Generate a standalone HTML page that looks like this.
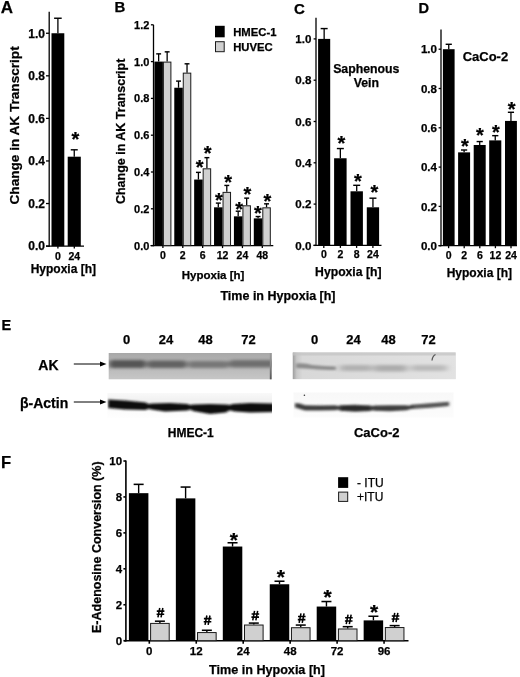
<!DOCTYPE html>
<html><head><meta charset="utf-8"><style>
html,body{margin:0;padding:0;background:#fff;}
svg{display:block;font-family:"Liberation Sans",sans-serif;filter:grayscale(1);}
text{stroke:#000;stroke-width:0.25px;paint-order:stroke;}
</style></head><body>
<svg width="520" height="677" viewBox="0 0 520 677">
<rect width="520" height="677" fill="#fff"/>
<text x="0.80" y="13.20" font-size="17" text-anchor="start" font-weight="bold" fill="#000">A</text>
<line x1="49.20" y1="11.80" x2="49.20" y2="246.75" stroke="#000" stroke-width="1.3"/>
<line x1="46.00" y1="246.10" x2="49.20" y2="246.10" stroke="#000" stroke-width="1.3"/>
<text x="45.00" y="250.40" font-size="12" text-anchor="end" font-weight="bold" fill="#000">0.0</text>
<line x1="46.00" y1="203.53" x2="49.20" y2="203.53" stroke="#000" stroke-width="1.3"/>
<text x="45.00" y="207.83" font-size="12" text-anchor="end" font-weight="bold" fill="#000">0.2</text>
<line x1="46.00" y1="160.96" x2="49.20" y2="160.96" stroke="#000" stroke-width="1.3"/>
<text x="45.00" y="165.26" font-size="12" text-anchor="end" font-weight="bold" fill="#000">0.4</text>
<line x1="46.00" y1="118.39" x2="49.20" y2="118.39" stroke="#000" stroke-width="1.3"/>
<text x="45.00" y="122.69" font-size="12" text-anchor="end" font-weight="bold" fill="#000">0.6</text>
<line x1="46.00" y1="75.82" x2="49.20" y2="75.82" stroke="#000" stroke-width="1.3"/>
<text x="45.00" y="80.12" font-size="12" text-anchor="end" font-weight="bold" fill="#000">0.8</text>
<line x1="46.00" y1="33.25" x2="49.20" y2="33.25" stroke="#000" stroke-width="1.3"/>
<text x="45.00" y="37.55" font-size="12" text-anchor="end" font-weight="bold" fill="#000">1.0</text>
<line x1="46.00" y1="246.10" x2="84.00" y2="246.10" stroke="#000" stroke-width="1.3"/>
<line x1="57.90" y1="246.10" x2="57.90" y2="248.60" stroke="#000" stroke-width="1.3"/>
<text x="57.90" y="259.70" font-size="10.5" text-anchor="middle" font-weight="bold" fill="#000">0</text>
<line x1="74.30" y1="246.10" x2="74.30" y2="248.60" stroke="#000" stroke-width="1.3"/>
<text x="74.30" y="259.70" font-size="10.5" text-anchor="middle" font-weight="bold" fill="#000">24</text>
<line x1="57.90" y1="33.25" x2="57.90" y2="18.24" stroke="#000" stroke-width="1.3"/>
<line x1="54.10" y1="18.24" x2="61.70" y2="18.24" stroke="#000" stroke-width="1.4300000000000002"/>
<rect x="51.50" y="33.25" width="12.80" height="212.85" fill="#000"/>
<line x1="74.25" y1="156.70" x2="74.25" y2="149.81" stroke="#000" stroke-width="1.3"/>
<line x1="70.75" y1="149.81" x2="77.75" y2="149.81" stroke="#000" stroke-width="1.4300000000000002"/>
<rect x="67.70" y="156.70" width="13.10" height="89.40" fill="#000"/>
<text x="75.40" y="146.40" font-size="20" text-anchor="middle" font-weight="bold" fill="#000" stroke="#000" stroke-width="0.35">*</text>
<text x="63.30" y="273.10" font-size="12" text-anchor="middle" font-weight="bold" fill="#000">Hypoxia [h]</text>
<text x="18.80" y="125.40" font-size="13.6" text-anchor="middle" font-weight="bold" fill="#000" transform="rotate(-90 18.8 125.4)">Change in AK Transcript</text>
<text x="114.60" y="12.40" font-size="15" text-anchor="start" font-weight="bold" fill="#000">B</text>
<line x1="153.50" y1="24.80" x2="153.50" y2="246.25" stroke="#000" stroke-width="1.3"/>
<line x1="150.90" y1="245.60" x2="153.50" y2="245.60" stroke="#000" stroke-width="1.3"/>
<text x="149.40" y="249.54" font-size="11" text-anchor="end" font-weight="bold" fill="#000">0.0</text>
<line x1="150.90" y1="208.80" x2="153.50" y2="208.80" stroke="#000" stroke-width="1.3"/>
<text x="149.40" y="212.74" font-size="11" text-anchor="end" font-weight="bold" fill="#000">0.2</text>
<line x1="150.90" y1="172.00" x2="153.50" y2="172.00" stroke="#000" stroke-width="1.3"/>
<text x="149.40" y="175.94" font-size="11" text-anchor="end" font-weight="bold" fill="#000">0.4</text>
<line x1="150.90" y1="135.20" x2="153.50" y2="135.20" stroke="#000" stroke-width="1.3"/>
<text x="149.40" y="139.14" font-size="11" text-anchor="end" font-weight="bold" fill="#000">0.6</text>
<line x1="150.90" y1="98.40" x2="153.50" y2="98.40" stroke="#000" stroke-width="1.3"/>
<text x="149.40" y="102.34" font-size="11" text-anchor="end" font-weight="bold" fill="#000">0.8</text>
<line x1="150.90" y1="61.60" x2="153.50" y2="61.60" stroke="#000" stroke-width="1.3"/>
<text x="149.40" y="65.54" font-size="11" text-anchor="end" font-weight="bold" fill="#000">1.0</text>
<line x1="150.90" y1="24.80" x2="153.50" y2="24.80" stroke="#000" stroke-width="1.3"/>
<text x="149.40" y="28.74" font-size="11" text-anchor="end" font-weight="bold" fill="#000">1.2</text>
<line x1="150.50" y1="245.60" x2="273.30" y2="245.60" stroke="#000" stroke-width="1.3"/>
<line x1="162.90" y1="245.60" x2="162.90" y2="248.10" stroke="#000" stroke-width="1.3"/>
<text x="162.90" y="258.80" font-size="10.5" text-anchor="middle" font-weight="bold" fill="#000">0</text>
<line x1="182.78" y1="245.60" x2="182.78" y2="248.10" stroke="#000" stroke-width="1.3"/>
<text x="182.78" y="258.80" font-size="10.5" text-anchor="middle" font-weight="bold" fill="#000">2</text>
<line x1="202.66" y1="245.60" x2="202.66" y2="248.10" stroke="#000" stroke-width="1.3"/>
<text x="202.66" y="258.80" font-size="10.5" text-anchor="middle" font-weight="bold" fill="#000">6</text>
<line x1="222.54" y1="245.60" x2="222.54" y2="248.10" stroke="#000" stroke-width="1.3"/>
<text x="222.54" y="258.80" font-size="10.5" text-anchor="middle" font-weight="bold" fill="#000">12</text>
<line x1="242.42" y1="245.60" x2="242.42" y2="248.10" stroke="#000" stroke-width="1.3"/>
<text x="242.42" y="258.80" font-size="10.5" text-anchor="middle" font-weight="bold" fill="#000">24</text>
<line x1="262.30" y1="245.60" x2="262.30" y2="248.10" stroke="#000" stroke-width="1.3"/>
<text x="262.30" y="258.80" font-size="10.5" text-anchor="middle" font-weight="bold" fill="#000">48</text>
<line x1="158.65" y1="61.60" x2="158.65" y2="53.87" stroke="#000" stroke-width="1.3"/>
<line x1="156.20" y1="53.87" x2="161.10" y2="53.87" stroke="#000" stroke-width="1.4300000000000002"/>
<rect x="154.40" y="61.60" width="8.50" height="184.00" fill="#000"/>
<line x1="167.15" y1="61.60" x2="167.15" y2="51.85" stroke="#000" stroke-width="1.3"/>
<line x1="164.70" y1="51.85" x2="169.60" y2="51.85" stroke="#000" stroke-width="1.4300000000000002"/>
<rect x="163.40" y="62.10" width="7.50" height="183.50" fill="#d0d0d0" stroke="#1a1a1a" stroke-width="1"/>
<line x1="178.53" y1="87.73" x2="178.53" y2="81.10" stroke="#000" stroke-width="1.3"/>
<line x1="176.08" y1="81.10" x2="180.98" y2="81.10" stroke="#000" stroke-width="1.4300000000000002"/>
<rect x="174.28" y="87.73" width="8.50" height="157.87" fill="#000"/>
<line x1="187.03" y1="72.64" x2="187.03" y2="63.81" stroke="#000" stroke-width="1.3"/>
<line x1="184.58" y1="63.81" x2="189.48" y2="63.81" stroke="#000" stroke-width="1.4300000000000002"/>
<rect x="183.28" y="73.14" width="7.50" height="172.46" fill="#d0d0d0" stroke="#1a1a1a" stroke-width="1"/>
<line x1="198.41" y1="179.54" x2="198.41" y2="172.37" stroke="#000" stroke-width="1.3"/>
<line x1="195.96" y1="172.37" x2="200.86" y2="172.37" stroke="#000" stroke-width="1.4300000000000002"/>
<rect x="194.16" y="179.54" width="8.50" height="66.06" fill="#000"/>
<line x1="206.91" y1="168.32" x2="206.91" y2="157.65" stroke="#000" stroke-width="1.3"/>
<line x1="204.46" y1="157.65" x2="209.36" y2="157.65" stroke="#000" stroke-width="1.4300000000000002"/>
<rect x="203.16" y="168.82" width="7.50" height="76.78" fill="#d0d0d0" stroke="#1a1a1a" stroke-width="1"/>
<text x="199.70" y="173.90" font-size="20" text-anchor="middle" font-weight="bold" fill="#000" stroke="#000" stroke-width="0.35">*</text>
<text x="207.60" y="160.20" font-size="20" text-anchor="middle" font-weight="bold" fill="#000" stroke="#000" stroke-width="0.35">*</text>
<line x1="218.29" y1="207.33" x2="218.29" y2="203.10" stroke="#000" stroke-width="1.3"/>
<line x1="215.84" y1="203.10" x2="220.74" y2="203.10" stroke="#000" stroke-width="1.4300000000000002"/>
<rect x="214.04" y="207.33" width="8.50" height="38.27" fill="#000"/>
<line x1="226.79" y1="191.87" x2="226.79" y2="185.43" stroke="#000" stroke-width="1.3"/>
<line x1="224.34" y1="185.43" x2="229.24" y2="185.43" stroke="#000" stroke-width="1.4300000000000002"/>
<rect x="223.04" y="192.37" width="7.50" height="53.23" fill="#d0d0d0" stroke="#1a1a1a" stroke-width="1"/>
<text x="219.00" y="206.70" font-size="20" text-anchor="middle" font-weight="bold" fill="#000" stroke="#000" stroke-width="0.35">*</text>
<text x="228.10" y="189.10" font-size="20" text-anchor="middle" font-weight="bold" fill="#000" stroke="#000" stroke-width="0.35">*</text>
<line x1="238.17" y1="216.34" x2="238.17" y2="211.19" stroke="#000" stroke-width="1.3"/>
<line x1="235.72" y1="211.19" x2="240.62" y2="211.19" stroke="#000" stroke-width="1.4300000000000002"/>
<rect x="233.92" y="216.34" width="8.50" height="29.26" fill="#000"/>
<line x1="246.67" y1="205.30" x2="246.67" y2="198.13" stroke="#000" stroke-width="1.3"/>
<line x1="244.22" y1="198.13" x2="249.12" y2="198.13" stroke="#000" stroke-width="1.4300000000000002"/>
<rect x="242.92" y="205.80" width="7.50" height="39.80" fill="#d0d0d0" stroke="#1a1a1a" stroke-width="1"/>
<text x="239.10" y="215.60" font-size="20" text-anchor="middle" font-weight="bold" fill="#000" stroke="#000" stroke-width="0.35">*</text>
<text x="247.30" y="201.30" font-size="20" text-anchor="middle" font-weight="bold" fill="#000" stroke="#000" stroke-width="0.35">*</text>
<line x1="258.05" y1="218.37" x2="258.05" y2="216.53" stroke="#000" stroke-width="1.3"/>
<line x1="255.60" y1="216.53" x2="260.50" y2="216.53" stroke="#000" stroke-width="1.4300000000000002"/>
<rect x="253.80" y="218.37" width="8.50" height="27.23" fill="#000"/>
<line x1="266.55" y1="207.33" x2="266.55" y2="203.83" stroke="#000" stroke-width="1.3"/>
<line x1="264.10" y1="203.83" x2="269.00" y2="203.83" stroke="#000" stroke-width="1.4300000000000002"/>
<rect x="262.80" y="207.83" width="7.50" height="37.77" fill="#d0d0d0" stroke="#1a1a1a" stroke-width="1"/>
<text x="257.80" y="219.80" font-size="20" text-anchor="middle" font-weight="bold" fill="#000" stroke="#000" stroke-width="0.35">*</text>
<text x="267.30" y="207.70" font-size="20" text-anchor="middle" font-weight="bold" fill="#000" stroke="#000" stroke-width="0.35">*</text>
<rect x="215.00" y="25.80" width="9.70" height="11.50" fill="#000"/>
<rect x="215.50" y="41.70" width="8.70" height="10.00" fill="#d0d0d0" stroke="#1a1a1a" stroke-width="1"/>
<text x="233.20" y="36.10" font-size="11.3" text-anchor="start" font-weight="bold" fill="#000">HMEC-1</text>
<text x="233.20" y="50.70" font-size="11.3" text-anchor="start" font-weight="bold" fill="#000">HUVEC</text>
<text x="213.10" y="279.00" font-size="11.5" text-anchor="middle" font-weight="bold" fill="#000">Hypoxia [h]</text>
<text x="278.00" y="300.00" font-size="12.5" text-anchor="middle" font-weight="bold" fill="#000">Time in Hypoxia [h]</text>
<text x="125.00" y="131.40" font-size="12.5" text-anchor="middle" font-weight="bold" fill="#000" transform="rotate(-90 125.0 131.4)">Change in AK Transcript</text>
<text x="293.90" y="14.30" font-size="15" text-anchor="start" font-weight="bold" fill="#000">C</text>
<line x1="316.00" y1="17.80" x2="316.00" y2="246.05" stroke="#000" stroke-width="1.3"/>
<line x1="313.60" y1="245.40" x2="316.00" y2="245.40" stroke="#000" stroke-width="1.3"/>
<text x="311.40" y="249.55" font-size="11.6" text-anchor="end" font-weight="bold" fill="#000">0.0</text>
<line x1="313.60" y1="204.10" x2="316.00" y2="204.10" stroke="#000" stroke-width="1.3"/>
<text x="311.40" y="208.25" font-size="11.6" text-anchor="end" font-weight="bold" fill="#000">0.2</text>
<line x1="313.60" y1="162.80" x2="316.00" y2="162.80" stroke="#000" stroke-width="1.3"/>
<text x="311.40" y="166.95" font-size="11.6" text-anchor="end" font-weight="bold" fill="#000">0.4</text>
<line x1="313.60" y1="121.50" x2="316.00" y2="121.50" stroke="#000" stroke-width="1.3"/>
<text x="311.40" y="125.65" font-size="11.6" text-anchor="end" font-weight="bold" fill="#000">0.6</text>
<line x1="313.60" y1="80.20" x2="316.00" y2="80.20" stroke="#000" stroke-width="1.3"/>
<text x="311.40" y="84.35" font-size="11.6" text-anchor="end" font-weight="bold" fill="#000">0.8</text>
<line x1="313.60" y1="38.90" x2="316.00" y2="38.90" stroke="#000" stroke-width="1.3"/>
<text x="311.40" y="43.05" font-size="11.6" text-anchor="end" font-weight="bold" fill="#000">1.0</text>
<line x1="313.50" y1="245.40" x2="381.50" y2="245.40" stroke="#000" stroke-width="1.3"/>
<line x1="323.80" y1="245.40" x2="323.80" y2="247.90" stroke="#000" stroke-width="1.3"/>
<text x="323.80" y="257.90" font-size="10.5" text-anchor="middle" font-weight="bold" fill="#000">0</text>
<line x1="340.40" y1="245.40" x2="340.40" y2="247.90" stroke="#000" stroke-width="1.3"/>
<text x="340.40" y="257.90" font-size="10.5" text-anchor="middle" font-weight="bold" fill="#000">2</text>
<line x1="356.60" y1="245.40" x2="356.60" y2="247.90" stroke="#000" stroke-width="1.3"/>
<text x="356.60" y="257.90" font-size="10.5" text-anchor="middle" font-weight="bold" fill="#000">8</text>
<line x1="372.90" y1="245.40" x2="372.90" y2="247.90" stroke="#000" stroke-width="1.3"/>
<text x="372.90" y="257.90" font-size="10.5" text-anchor="middle" font-weight="bold" fill="#000">24</text>
<line x1="324.15" y1="38.90" x2="324.15" y2="28.58" stroke="#000" stroke-width="1.3"/>
<line x1="320.65" y1="28.58" x2="327.65" y2="28.58" stroke="#000" stroke-width="1.4300000000000002"/>
<rect x="318.10" y="38.90" width="12.10" height="206.50" fill="#000"/>
<line x1="340.35" y1="158.26" x2="340.35" y2="148.55" stroke="#000" stroke-width="1.3"/>
<line x1="336.85" y1="148.55" x2="343.85" y2="148.55" stroke="#000" stroke-width="1.4300000000000002"/>
<rect x="334.10" y="158.26" width="12.50" height="87.14" fill="#000"/>
<text x="341.40" y="149.80" font-size="20" text-anchor="middle" font-weight="bold" fill="#000" stroke="#000" stroke-width="0.35">*</text>
<line x1="356.70" y1="191.30" x2="356.70" y2="185.31" stroke="#000" stroke-width="1.3"/>
<line x1="353.20" y1="185.31" x2="360.20" y2="185.31" stroke="#000" stroke-width="1.4300000000000002"/>
<rect x="350.50" y="191.30" width="12.40" height="54.10" fill="#000"/>
<text x="358.00" y="188.10" font-size="20" text-anchor="middle" font-weight="bold" fill="#000" stroke="#000" stroke-width="0.35">*</text>
<line x1="372.95" y1="207.30" x2="372.95" y2="198.19" stroke="#000" stroke-width="1.3"/>
<line x1="369.45" y1="198.19" x2="376.45" y2="198.19" stroke="#000" stroke-width="1.4300000000000002"/>
<rect x="366.80" y="207.30" width="12.30" height="38.10" fill="#000"/>
<text x="374.50" y="198.70" font-size="20" text-anchor="middle" font-weight="bold" fill="#000" stroke="#000" stroke-width="0.35">*</text>
<text x="366.30" y="72.60" font-size="12.3" text-anchor="middle" font-weight="bold" fill="#000">Saphenous</text>
<text x="366.30" y="87.40" font-size="12.3" text-anchor="middle" font-weight="bold" fill="#000">Vein</text>
<text x="348.30" y="276.20" font-size="12.2" text-anchor="middle" font-weight="bold" fill="#000">Hypoxia [h]</text>
<text x="418.40" y="12.90" font-size="14.6" text-anchor="start" font-weight="bold" fill="#000">D</text>
<line x1="441.00" y1="29.40" x2="441.00" y2="246.35" stroke="#000" stroke-width="1.3"/>
<line x1="438.60" y1="245.70" x2="441.00" y2="245.70" stroke="#000" stroke-width="1.3"/>
<text x="437.00" y="249.85" font-size="11.6" text-anchor="end" font-weight="bold" fill="#000">0.0</text>
<line x1="438.60" y1="206.40" x2="441.00" y2="206.40" stroke="#000" stroke-width="1.3"/>
<text x="437.00" y="210.55" font-size="11.6" text-anchor="end" font-weight="bold" fill="#000">0.2</text>
<line x1="438.60" y1="167.10" x2="441.00" y2="167.10" stroke="#000" stroke-width="1.3"/>
<text x="437.00" y="171.25" font-size="11.6" text-anchor="end" font-weight="bold" fill="#000">0.4</text>
<line x1="438.60" y1="127.80" x2="441.00" y2="127.80" stroke="#000" stroke-width="1.3"/>
<text x="437.00" y="131.95" font-size="11.6" text-anchor="end" font-weight="bold" fill="#000">0.6</text>
<line x1="438.60" y1="88.50" x2="441.00" y2="88.50" stroke="#000" stroke-width="1.3"/>
<text x="437.00" y="92.65" font-size="11.6" text-anchor="end" font-weight="bold" fill="#000">0.8</text>
<line x1="438.60" y1="49.20" x2="441.00" y2="49.20" stroke="#000" stroke-width="1.3"/>
<text x="437.00" y="53.35" font-size="11.6" text-anchor="end" font-weight="bold" fill="#000">1.0</text>
<line x1="438.50" y1="245.70" x2="517.00" y2="245.70" stroke="#000" stroke-width="1.3"/>
<line x1="448.60" y1="245.70" x2="448.60" y2="248.20" stroke="#000" stroke-width="1.3"/>
<text x="448.60" y="259.20" font-size="10.5" text-anchor="middle" font-weight="bold" fill="#000">0</text>
<line x1="464.20" y1="245.70" x2="464.20" y2="248.20" stroke="#000" stroke-width="1.3"/>
<text x="464.20" y="259.20" font-size="10.5" text-anchor="middle" font-weight="bold" fill="#000">2</text>
<line x1="479.80" y1="245.70" x2="479.80" y2="248.20" stroke="#000" stroke-width="1.3"/>
<text x="479.80" y="259.20" font-size="10.5" text-anchor="middle" font-weight="bold" fill="#000">6</text>
<line x1="495.40" y1="245.70" x2="495.40" y2="248.20" stroke="#000" stroke-width="1.3"/>
<text x="495.40" y="259.20" font-size="10.5" text-anchor="middle" font-weight="bold" fill="#000">12</text>
<line x1="511.00" y1="245.70" x2="511.00" y2="248.20" stroke="#000" stroke-width="1.3"/>
<text x="511.00" y="259.20" font-size="10.5" text-anchor="middle" font-weight="bold" fill="#000">24</text>
<line x1="448.75" y1="49.20" x2="448.75" y2="44.29" stroke="#000" stroke-width="1.3"/>
<line x1="445.65" y1="44.29" x2="451.85" y2="44.29" stroke="#000" stroke-width="1.4300000000000002"/>
<rect x="442.90" y="49.20" width="11.70" height="196.50" fill="#000"/>
<line x1="464.10" y1="152.36" x2="464.10" y2="150.00" stroke="#000" stroke-width="1.3"/>
<line x1="461.00" y1="150.00" x2="467.20" y2="150.00" stroke="#000" stroke-width="1.4300000000000002"/>
<rect x="458.10" y="152.36" width="12.00" height="93.34" fill="#000"/>
<text x="464.80" y="152.50" font-size="20" text-anchor="middle" font-weight="bold" fill="#000" stroke="#000" stroke-width="0.35">*</text>
<line x1="479.70" y1="144.99" x2="479.70" y2="141.56" stroke="#000" stroke-width="1.3"/>
<line x1="476.60" y1="141.56" x2="482.80" y2="141.56" stroke="#000" stroke-width="1.4300000000000002"/>
<rect x="473.70" y="144.99" width="12.00" height="100.71" fill="#000"/>
<text x="480.00" y="141.60" font-size="20" text-anchor="middle" font-weight="bold" fill="#000" stroke="#000" stroke-width="0.35">*</text>
<line x1="495.25" y1="140.38" x2="495.25" y2="135.66" stroke="#000" stroke-width="1.3"/>
<line x1="492.15" y1="135.66" x2="498.35" y2="135.66" stroke="#000" stroke-width="1.4300000000000002"/>
<rect x="489.20" y="140.38" width="12.10" height="105.32" fill="#000"/>
<text x="495.90" y="139.20" font-size="20" text-anchor="middle" font-weight="bold" fill="#000" stroke="#000" stroke-width="0.35">*</text>
<line x1="510.95" y1="120.92" x2="510.95" y2="112.28" stroke="#000" stroke-width="1.3"/>
<line x1="507.85" y1="112.28" x2="514.05" y2="112.28" stroke="#000" stroke-width="1.4300000000000002"/>
<rect x="505.00" y="120.92" width="11.90" height="124.78" fill="#000"/>
<text x="511.70" y="116.20" font-size="20" text-anchor="middle" font-weight="bold" fill="#000" stroke="#000" stroke-width="0.35">*</text>
<text x="485.40" y="61.20" font-size="13" text-anchor="middle" font-weight="bold" fill="#000">CaCo-2</text>
<text x="479.30" y="276.50" font-size="12" text-anchor="middle" font-weight="bold" fill="#000">Hypoxia [h]</text>
<text x="1.50" y="330.00" font-size="14.5" text-anchor="start" font-weight="bold" fill="#000">E</text>
<text x="126.50" y="343.90" font-size="13" text-anchor="middle" font-weight="bold" fill="#000">0</text>
<text x="166.00" y="343.90" font-size="13" text-anchor="middle" font-weight="bold" fill="#000">24</text>
<text x="205.50" y="343.90" font-size="13" text-anchor="middle" font-weight="bold" fill="#000">48</text>
<text x="248.60" y="343.90" font-size="13" text-anchor="middle" font-weight="bold" fill="#000">72</text>
<text x="314.70" y="343.90" font-size="13" text-anchor="middle" font-weight="bold" fill="#000">0</text>
<text x="353.60" y="343.90" font-size="13" text-anchor="middle" font-weight="bold" fill="#000">24</text>
<text x="388.40" y="343.90" font-size="13" text-anchor="middle" font-weight="bold" fill="#000">48</text>
<text x="428.40" y="343.90" font-size="13" text-anchor="middle" font-weight="bold" fill="#000">72</text>
<text x="38.30" y="370.00" font-size="14" text-anchor="start" font-weight="bold" fill="#000">AK</text>
<text x="20.00" y="407.50" font-size="14" text-anchor="start" font-weight="bold" fill="#000">β-Actin</text>
<line x1="73.80" y1="364.00" x2="101.00" y2="364.00" stroke="#000" stroke-width="1.0"/>
<path d="M100,361.4 L106.5,364 L100,366.6 Z" fill="#000"/>
<line x1="73.80" y1="402.00" x2="101.00" y2="402.00" stroke="#000" stroke-width="1.0"/>
<path d="M100,399.4 L106.5,402 L100,404.6 Z" fill="#000"/>
<defs>
<filter id="b1" x="-20%" y="-100%" width="140%" height="300%"><feGaussianBlur stdDeviation="2.8 1.8"/></filter>
<filter id="b3" x="-20%" y="-100%" width="140%" height="300%"><feGaussianBlur stdDeviation="3.5 1.8"/></filter>
<filter id="b2" x="-20%" y="-100%" width="140%" height="300%"><feGaussianBlur stdDeviation="1.8 1.3"/></filter>
<filter id="b0" x="-10%" y="-10%" width="120%" height="120%"><feGaussianBlur stdDeviation="0.6"/></filter>
<filter id="b4" x="-50%" y="-50%" width="200%" height="200%"><feGaussianBlur stdDeviation="2.5"/></filter>
<linearGradient id="gA1" x1="0" y1="0" x2="0" y2="1">
<stop offset="0" stop-color="#a8a8a8"/><stop offset="0.3" stop-color="#b2b2b2"/><stop offset="1" stop-color="#c6c6c6"/></linearGradient>
<linearGradient id="gA2" x1="0" y1="0" x2="1" y2="0">
<stop offset="0" stop-color="#9e9e9e"/><stop offset="0.025" stop-color="#c8c8c8"/><stop offset="0.06" stop-color="#d8d8d8"/><stop offset="1" stop-color="#e2e2e2"/></linearGradient>
<linearGradient id="gB1" x1="0" y1="0" x2="0" y2="1">
<stop offset="0" stop-color="#f9f9f9"/><stop offset="0.3" stop-color="#f1f1f1"/><stop offset="0.6" stop-color="#fafafa"/><stop offset="1" stop-color="#fefefe"/></linearGradient>
<linearGradient id="gB2" x1="0" y1="0" x2="0" y2="1">
<stop offset="0" stop-color="#f8f8f8"/><stop offset="1" stop-color="#fcfcfc"/></linearGradient>
<clipPath id="cA1"><rect x="108.7" y="353" width="163" height="26.3"/></clipPath>
<clipPath id="cB1"><rect x="107.5" y="393" width="164.5" height="25"/></clipPath>
<clipPath id="cA2"><rect x="292.8" y="352.5" width="162.8" height="26.6"/></clipPath>
<clipPath id="cB2"><rect x="293.5" y="392.5" width="160" height="25"/></clipPath>
<linearGradient id="gE" x1="0" y1="0" x2="0" y2="1"><stop offset="0" stop-color="#9a9a9a"/><stop offset="0.45" stop-color="#8a8a8a"/><stop offset="1" stop-color="#555"/></linearGradient>
</defs>
<!-- HMEC AK -->
<rect x="108.7" y="353" width="163" height="26.3" fill="url(#gA1)"/>
<g clip-path="url(#cA1)"><g filter="url(#b1)">
<rect x="109" y="360" width="37" height="8" rx="3.5" fill="#555"/>
<rect x="147" y="360.5" width="40" height="7.5" rx="3.5" fill="#626262"/>
<rect x="188" y="361" width="41" height="7" rx="3.5" fill="#777"/>
<rect x="229" y="360" width="46" height="7.5" rx="3.5" fill="#6e6e6e"/>
</g></g>
<rect x="269.8" y="353" width="1.8" height="26.3" fill="url(#gE)"/>
<!-- HMEC actin -->
<rect x="107.5" y="393" width="164.5" height="25" fill="url(#gB1)"/>
<g clip-path="url(#cB1)"><g filter="url(#b2)">
<path d="M108,399.5 L125,400.5 L146,402.5 L148.5,404.2 L151,403.6 L170,403 L188,404 L190,405.2 L192.5,404.5 L210,404 L227.5,404.5 L229.5,405.2 L232,404 L250,403 L274,403.5 L274,412 L250,412.5 L235,411.5 L229.5,410.3 L226,412.5 L210,414 L193,411 L190,409.2 L188,410.5 L165,411.5 L151,409.6 L148.5,408.6 L146,410 L125,409.5 L108,408 Z" fill="#0e0e0e"/>
</g></g>
<!-- CaCo AK -->
<rect x="292.8" y="352.5" width="162.8" height="26.6" fill="#dcdcdc"/>
<rect x="292.8" y="352.5" width="162.8" height="26.6" fill="url(#gA2)"/>
<rect x="292.8" y="352.5" width="162.8" height="3" fill="#c4c4c4" filter="url(#b0)" opacity="0.7"/>
<g clip-path="url(#cA2)"><g filter="url(#b2)">
<path d="M296,363.5 Q305,362.5 312,365 Q325,366 336,366.5 L336,370 Q322,370 312,369 Q304,368.5 296,368 Z" fill="#8c8c8c"/>
</g>
<g filter="url(#b3)">
<rect x="340" y="365" width="32" height="6" rx="2" fill="#b0b0b0"/>
<rect x="374" y="365" width="33" height="6.5" rx="2" fill="#acacac"/>
<rect x="411" y="365" width="36" height="6" rx="2" fill="#bababa"/>
</g></g>
<path d="M435.5,354.5 Q432.5,356 432,360.5" stroke="#555" stroke-width="1.3" fill="none"/>
<!-- CaCo actin -->
<rect x="293.5" y="392.5" width="160" height="25" fill="url(#gB2)"/>
<g clip-path="url(#cB2)"><g filter="url(#b2)">
<path d="M295,403 L300,403.5 L305,405.2 L320,405.4 L336,405.2 L338,406.2 L340,405.2 L355,404.8 L371,405.4 L372.5,406.2 L374,405.6 L390,405.2 L407,405.2 L409,406 L411,404.8 L430,403.2 L449,401.8 L449,406 L430,407.8 L411,409 L409,409.4 L407,410.3 L390,411.2 L374,410.8 L372.5,410 L371,411 L355,411.8 L340,410.8 L338,409.6 L336,410.3 L320,410.6 L305,410.5 L300,409 L295,407.5 Z" fill="#3e3e3e"/>
<path d="M341,405.5 L370,405.8 L370,410.8 L341,411 Z" fill="#222" opacity="0.6"/>
<path d="M414,404.8 L448,402.2 L448,405.6 L414,408.6 Z" fill="#888" opacity="0.35"/>
</g></g>
<circle cx="304.4" cy="395.3" r="0.8" fill="#333"/>

<text x="190.80" y="436.50" font-size="12" text-anchor="middle" font-weight="bold" fill="#000">HMEC-1</text>
<text x="376.70" y="436.50" font-size="13" text-anchor="middle" font-weight="bold" fill="#000">CaCo-2</text>
<text x="1.00" y="468.20" font-size="16.5" text-anchor="start" font-weight="bold" fill="#000">F</text>
<line x1="125.90" y1="460.60" x2="125.90" y2="641.50" stroke="#000" stroke-width="1.6"/>
<line x1="123.40" y1="640.70" x2="125.90" y2="640.70" stroke="#000" stroke-width="1.6"/>
<text x="122.10" y="644.82" font-size="11.5" text-anchor="end" font-weight="bold" fill="#000">0</text>
<line x1="123.40" y1="604.76" x2="125.90" y2="604.76" stroke="#000" stroke-width="1.6"/>
<text x="122.10" y="608.88" font-size="11.5" text-anchor="end" font-weight="bold" fill="#000">2</text>
<line x1="123.40" y1="568.82" x2="125.90" y2="568.82" stroke="#000" stroke-width="1.6"/>
<text x="122.10" y="572.94" font-size="11.5" text-anchor="end" font-weight="bold" fill="#000">4</text>
<line x1="123.40" y1="532.88" x2="125.90" y2="532.88" stroke="#000" stroke-width="1.6"/>
<text x="122.10" y="537.00" font-size="11.5" text-anchor="end" font-weight="bold" fill="#000">6</text>
<line x1="123.40" y1="496.94" x2="125.90" y2="496.94" stroke="#000" stroke-width="1.6"/>
<text x="122.10" y="501.06" font-size="11.5" text-anchor="end" font-weight="bold" fill="#000">8</text>
<line x1="123.40" y1="461.00" x2="125.90" y2="461.00" stroke="#000" stroke-width="1.6"/>
<text x="122.10" y="465.12" font-size="11.5" text-anchor="end" font-weight="bold" fill="#000">10</text>
<line x1="124.00" y1="640.70" x2="408.50" y2="640.70" stroke="#000" stroke-width="1.6"/>
<line x1="149.30" y1="640.70" x2="149.30" y2="643.70" stroke="#000" stroke-width="1.6"/>
<text x="149.30" y="655.20" font-size="11.5" text-anchor="middle" font-weight="bold" fill="#000">0</text>
<line x1="196.25" y1="640.70" x2="196.25" y2="643.70" stroke="#000" stroke-width="1.6"/>
<text x="196.25" y="655.20" font-size="11.5" text-anchor="middle" font-weight="bold" fill="#000">12</text>
<line x1="243.20" y1="640.70" x2="243.20" y2="643.70" stroke="#000" stroke-width="1.6"/>
<text x="243.20" y="655.20" font-size="11.5" text-anchor="middle" font-weight="bold" fill="#000">24</text>
<line x1="290.15" y1="640.70" x2="290.15" y2="643.70" stroke="#000" stroke-width="1.6"/>
<text x="290.15" y="655.20" font-size="11.5" text-anchor="middle" font-weight="bold" fill="#000">48</text>
<line x1="337.10" y1="640.70" x2="337.10" y2="643.70" stroke="#000" stroke-width="1.6"/>
<text x="337.10" y="655.20" font-size="11.5" text-anchor="middle" font-weight="bold" fill="#000">72</text>
<line x1="384.05" y1="640.70" x2="384.05" y2="643.70" stroke="#000" stroke-width="1.6"/>
<text x="384.05" y="655.20" font-size="11.5" text-anchor="middle" font-weight="bold" fill="#000">96</text>
<line x1="138.65" y1="493.17" x2="138.65" y2="484.36" stroke="#000" stroke-width="1.4"/>
<line x1="133.65" y1="484.36" x2="143.65" y2="484.36" stroke="#000" stroke-width="1.54"/>
<rect x="128.90" y="493.17" width="19.50" height="147.53" fill="#000"/>
<line x1="159.90" y1="622.91" x2="159.90" y2="621.20" stroke="#000" stroke-width="1.4"/>
<line x1="154.90" y1="621.20" x2="164.90" y2="621.20" stroke="#000" stroke-width="1.54"/>
<rect x="150.60" y="623.41" width="18.60" height="17.29" fill="#d0d0d0" stroke="#1a1a1a" stroke-width="1"/>
<path d="M157.95,617.40L159.75,608.00M161.05,617.40L162.85,608.00M156.80,611.10H164.40M156.60,614.20H164.20" stroke="#000" stroke-width="1.55" fill="none"/>
<line x1="185.60" y1="498.38" x2="185.60" y2="487.06" stroke="#000" stroke-width="1.4"/>
<line x1="180.60" y1="487.06" x2="190.60" y2="487.06" stroke="#000" stroke-width="1.54"/>
<rect x="175.85" y="498.38" width="19.50" height="142.32" fill="#000"/>
<line x1="206.85" y1="632.07" x2="206.85" y2="630.28" stroke="#000" stroke-width="1.4"/>
<line x1="201.85" y1="630.28" x2="211.85" y2="630.28" stroke="#000" stroke-width="1.54"/>
<rect x="197.55" y="632.57" width="18.60" height="8.13" fill="#d0d0d0" stroke="#1a1a1a" stroke-width="1"/>
<path d="M205.05,624.90L206.85,615.50M208.15,624.90L209.95,615.50M203.90,618.60H211.50M203.70,621.70H211.30" stroke="#000" stroke-width="1.55" fill="none"/>
<line x1="232.55" y1="546.54" x2="232.55" y2="542.76" stroke="#000" stroke-width="1.4"/>
<line x1="227.55" y1="542.76" x2="237.55" y2="542.76" stroke="#000" stroke-width="1.54"/>
<rect x="222.80" y="546.54" width="19.50" height="94.16" fill="#000"/>
<line x1="253.80" y1="624.53" x2="253.80" y2="623.09" stroke="#000" stroke-width="1.4"/>
<line x1="248.80" y1="623.09" x2="258.80" y2="623.09" stroke="#000" stroke-width="1.54"/>
<rect x="244.50" y="625.03" width="18.60" height="15.67" fill="#d0d0d0" stroke="#1a1a1a" stroke-width="1"/>
<text x="233.90" y="546.95" font-size="21" text-anchor="middle" font-weight="bold" fill="#000" stroke="#000" stroke-width="0.35">*</text>
<path d="M252.75,620.30L254.55,610.90M255.85,620.30L257.65,610.90M251.60,614.00H259.20M251.40,617.10H259.00" stroke="#000" stroke-width="1.55" fill="none"/>
<line x1="279.50" y1="584.27" x2="279.50" y2="581.22" stroke="#000" stroke-width="1.4"/>
<line x1="274.50" y1="581.22" x2="284.50" y2="581.22" stroke="#000" stroke-width="1.54"/>
<rect x="269.75" y="584.27" width="19.50" height="56.43" fill="#000"/>
<line x1="300.75" y1="627.22" x2="300.75" y2="625.07" stroke="#000" stroke-width="1.4"/>
<line x1="295.75" y1="625.07" x2="305.75" y2="625.07" stroke="#000" stroke-width="1.54"/>
<rect x="291.45" y="627.72" width="18.60" height="12.98" fill="#d0d0d0" stroke="#1a1a1a" stroke-width="1"/>
<text x="280.90" y="583.65" font-size="21" text-anchor="middle" font-weight="bold" fill="#000" stroke="#000" stroke-width="0.35">*</text>
<path d="M299.15,622.80L300.95,613.40M302.25,622.80L304.05,613.40M298.00,616.50H305.60M297.80,619.60H305.40" stroke="#000" stroke-width="1.55" fill="none"/>
<line x1="326.45" y1="606.56" x2="326.45" y2="601.53" stroke="#000" stroke-width="1.4"/>
<line x1="321.45" y1="601.53" x2="331.45" y2="601.53" stroke="#000" stroke-width="1.54"/>
<rect x="316.70" y="606.56" width="19.50" height="34.14" fill="#000"/>
<line x1="347.70" y1="628.48" x2="347.70" y2="626.68" stroke="#000" stroke-width="1.4"/>
<line x1="342.70" y1="626.68" x2="352.70" y2="626.68" stroke="#000" stroke-width="1.54"/>
<rect x="338.40" y="628.98" width="18.60" height="11.72" fill="#d0d0d0" stroke="#1a1a1a" stroke-width="1"/>
<text x="327.50" y="603.95" font-size="21" text-anchor="middle" font-weight="bold" fill="#000" stroke="#000" stroke-width="0.35">*</text>
<path d="M346.25,624.10L348.05,614.70M349.35,624.10L351.15,614.70M345.10,617.80H352.70M344.90,620.90H352.50" stroke="#000" stroke-width="1.55" fill="none"/>
<line x1="373.40" y1="620.39" x2="373.40" y2="616.26" stroke="#000" stroke-width="1.4"/>
<line x1="368.40" y1="616.26" x2="378.40" y2="616.26" stroke="#000" stroke-width="1.54"/>
<rect x="363.65" y="620.39" width="19.50" height="20.31" fill="#000"/>
<line x1="394.65" y1="627.04" x2="394.65" y2="625.61" stroke="#000" stroke-width="1.4"/>
<line x1="389.65" y1="625.61" x2="399.65" y2="625.61" stroke="#000" stroke-width="1.54"/>
<rect x="385.35" y="627.54" width="18.60" height="13.16" fill="#d0d0d0" stroke="#1a1a1a" stroke-width="1"/>
<text x="374.00" y="619.25" font-size="21" text-anchor="middle" font-weight="bold" fill="#000" stroke="#000" stroke-width="0.35">*</text>
<path d="M392.95,622.20L394.75,612.80M396.05,622.20L397.85,612.80M391.80,615.90H399.40M391.60,619.00H399.20" stroke="#000" stroke-width="1.55" fill="none"/>
<rect x="338.10" y="477.20" width="10.10" height="10.70" fill="#000"/>
<rect x="338.60" y="492.10" width="9.10" height="9.30" fill="#d0d0d0" stroke="#1a1a1a" stroke-width="1"/>
<text x="357.00" y="486.80" font-size="12" text-anchor="start" font-weight="normal" fill="#000">- ITU</text>
<text x="357.00" y="501.40" font-size="12" text-anchor="start" font-weight="normal" fill="#000">+ITU</text>
<text x="267.00" y="673.80" font-size="12.6" text-anchor="middle" font-weight="bold" fill="#000">Time in Hypoxia [h]</text>
<text x="100.80" y="547.20" font-size="12.5" text-anchor="middle" font-weight="bold" fill="#000" transform="rotate(-90 100.8 547.2)">E-Adenosine Conversion (%)</text>
</svg></body></html>
